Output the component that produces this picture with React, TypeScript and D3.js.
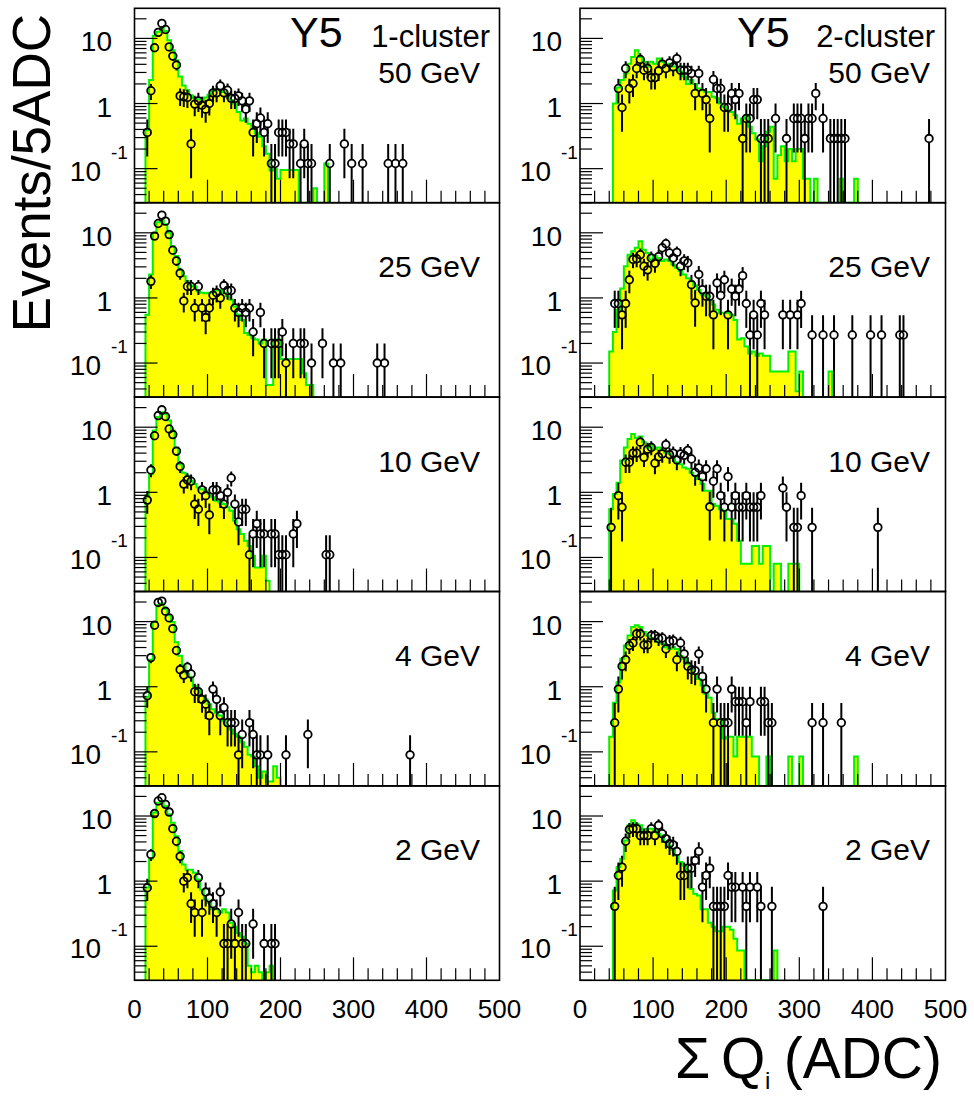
import React from 'react';
import * as d3 from 'd3';

const W = 974;
const H = 1097;
const FONT = "'Liberation Sans', Arial, Helvetica, sans-serif";

// ---------- data ----------
// MC histograms: 5-ADC bins, first bin low edge given by *_start
const mc1c50_start = 15;
const mc1c50 = [0.39, 2.3, 11, 12.7, 15, 13, 9.4, 6.6, 4.6, 2.6, 1.9, 1.6, 1.34, 1.22, 1.15, 1.15, 1.24, 1.37, 1.57, 1.64, 1.6, 1.5, 1.27, 1.12, 1.0, 0.74, 0.55, 0.59, 0.49, 0.44, 0.35, 0.31, 0.22, 0.17, 0.094, 0.1, 0.07, 0.095, 0.095, 0.095, 0.095, 0.095, 0, 0, 0, 0, 0.05, 0, 0, 0.12];
const d1c50: [number, number][] = [[17.5, 0.36], [22.5, 1.57], [27.5, 7.2], [32.5, 12.4], [37.5, 17], [42.5, 13.7], [47.5, 7.4], [52.5, 5.35], [57.5, 3.9], [62.5, 1.31], [67.5, 1.27], [72.5, 1.24], [77.5, 0.24], [82.5, 0.98], [87.5, 1.1], [92.5, 0.94], [97.5, 0.82], [102.5, 1.0], [107.5, 1.46], [112.5, 1.46], [117.5, 1.87], [122.5, 1.46], [127.5, 1.6], [132.5, 1.2], [137.5, 1.2], [142.5, 1.31], [147.5, 1.1], [152.5, 0.82], [157.5, 1.1], [162.5, 0.36], [167.5, 0.49], [172.5, 0.6], [177.5, 0.36], [182.5, 0.49], [187.5, 0.12], [192.5, 0.12], [197.5, 0.36], [202.5, 0.36], [207.5, 0.36], [212.5, 0.24], [217.5, 0.24], [227.5, 0.12], [232.5, 0.24], [237.5, 0.12], [242.5, 0.12], [267.5, 0.12], [287.5, 0.24], [297.5, 0.12], [312.5, 0.12], [347.5, 0.12], [357.5, 0.12], [367.5, 0.12]];
const unit1c50 = 0.119;

const mc2c50_start = 45;
const mc2c50 = [1.0, 1.76, 2.3, 2.9, 4.1, 5.2, 6.6, 5.2, 4.4, 3.7, 4.4, 4.1, 4.9, 4.4, 3.9, 4.1, 3.7, 3.7, 3.1, 2.6, 2.0, 2.3, 2.0, 1.7, 1.6, 1.5, 1.5, 1.27, 1.2, 1.0, 0.89, 0.79, 0.74, 0.66, 0.49, 0.59, 0.66, 0.44, 0.35, 0.28, 0.13, 0.22, 0.37, 0.44, 0.07, 0.16, 0.22, 0.13, 0.2, 0.13, 0.2, 0.2, 0.07, 0.07, 0, 0.07, 0, 0, 0, 0, 0, 0, 0.07, 0, 0, 0, 0.07];
const d2c50: [number, number][] = [[52.5, 1.70], [57.5, 0.87], [62.5, 3.45], [67.5, 1.70], [72.5, 2.03], [77.5, 3.45], [82.5, 4.75], [87.5, 3.25], [92.5, 3.45], [97.5, 2.5], [102.5, 2.5], [107.5, 3.18], [112.5, 4.03], [117.5, 3.45], [122.5, 4.2], [127.5, 3.66], [132.5, 4.9], [137.5, 3.25], [142.5, 3.25], [147.5, 3.25], [152.5, 2.9], [157.5, 1.43], [162.5, 2.9], [167.5, 1.43], [172.5, 1.15], [177.5, 0.59], [182.5, 2.34], [187.5, 1.70], [192.5, 1.70], [197.5, 0.87], [202.5, 0.87], [207.5, 1.43], [212.5, 1.15], [217.5, 1.43], [222.5, 0.29], [227.5, 0.59], [232.5, 0.59], [237.5, 1.15], [242.5, 1.15], [247.5, 0.29], [252.5, 0.29], [257.5, 0.29], [267.5, 0.59], [282.5, 0.29], [292.5, 0.59], [297.5, 0.59], [302.5, 0.59], [307.5, 0.29], [312.5, 0.59], [317.5, 0.59], [322.5, 1.43], [332.5, 0.59], [342.5, 0.29], [347.5, 0.29], [352.5, 0.29], [357.5, 0.29], [362.5, 0.29], [477.5, 0.29]];
const unit2c50 = 0.29;

const mc1c25_start = 15;
const mc1c25 = [0.55, 2.3, 10, 14.5, 15.6, 13.5, 10, 6.2, 4.4, 2.7, 2.15, 1.8, 1.55, 1.5, 1.27, 1.2, 1.18, 1.2, 1.22, 1.3, 1.32, 1.2, 1.06, 0.94, 0.74, 0.55, 0.46, 0.29, 0.27, 0.24, 0.23, 0.2, 0.23, 0.046, 0.046, 0.23, 0.23, 0.115, 0.115, 0.115, 0.115, 0.115, 0.115, 0.07, 0.046, 0.046];
const d1c25: [number, number][] = [[22.5, 1.8], [27.5, 8.9], [32.5, 13.9], [37.5, 18.7], [42.5, 15.1], [47.5, 9.4], [52.5, 5.4], [57.5, 3.7], [62.5, 2.4], [67.5, 0.9], [72.5, 1.5], [77.5, 1.5], [82.5, 0.7], [87.5, 1.5], [92.5, 0.7], [97.5, 0.5], [102.5, 0.7], [107.5, 1.1], [112.5, 1.2], [117.5, 1.0], [122.5, 1.55], [127.5, 1.3], [132.5, 1.3], [137.5, 0.7], [142.5, 0.6], [147.5, 0.7], [152.5, 0.6], [157.5, 0.7], [162.5, 0.3], [172.5, 0.6], [177.5, 0.2], [187.5, 0.2], [192.5, 0.2], [197.5, 0.2], [202.5, 0.3], [207.5, 0.1], [217.5, 0.2], [227.5, 0.2], [232.5, 0.2], [242.5, 0.1], [257.5, 0.2], [272.5, 0.1], [282.5, 0.1], [332.5, 0.1], [342.5, 0.1]];
const unit1c25 = 0.1;

const mc2c25_start = 40;
const mc2c25 = [0.15, 0.3, 0.66, 1.4, 3.07, 4.6, 5.2, 5.9, 7.4, 5.5, 4.9, 3.9, 4.4, 4.1, 3.7, 3.9, 3.7, 3.25, 2.9, 2.6, 2.3, 2.0, 1.8, 1.55, 1.34, 1.13, 1.09, 0.94, 0.79, 0.66, 0.59, 0.59, 0.59, 0.55, 0.46, 0.23, 0.24, 0.18, 0.14, 0.15, 0.13, 0.14, 0.13, 0.13, 0.074, 0.074, 0.074, 0.074, 0.074, 0.15, 0.15, 0.037, 0.074, 0, 0, 0, 0, 0, 0, 0, 0.074];
const d2c25: [number, number][] = [[47.5, 0.82], [52.5, 0.82], [57.5, 0.55], [62.5, 0.82], [67.5, 1.9], [72.5, 3.9], [77.5, 4.0], [82.5, 4.6], [87.5, 3.07], [92.5, 2.7], [97.5, 4.1], [102.5, 3.4], [107.5, 4.3], [112.5, 5.9], [117.5, 6.8], [122.5, 4.9], [127.5, 4.1], [132.5, 5.0], [137.5, 3.07], [142.5, 3.7], [147.5, 3.45], [152.5, 1.6], [157.5, 0.84], [162.5, 2.3], [167.5, 1.34], [172.5, 1.06], [177.5, 1.06], [182.5, 0.55], [187.5, 1.7], [192.5, 1.09], [197.5, 1.9], [202.5, 0.55], [207.5, 1.37], [212.5, 1.06], [217.5, 1.37], [222.5, 2.2], [227.5, 0.82], [232.5, 0.27], [237.5, 0.55], [242.5, 0.27], [247.5, 0.82], [252.5, 0.55], [277.5, 0.55], [287.5, 0.55], [297.5, 0.55], [302.5, 0.82], [317.5, 0.27], [332.5, 0.27], [347.5, 0.27], [372.5, 0.27], [397.5, 0.27], [412.5, 0.27], [437.5, 0.27], [442.5, 0.27]];
const unit2c25 = 0.273;

const mc1c10_start = 15;
const mc1c10 = [0.9, 1.9, 8.9, 14.3, 17, 16, 12.7, 8.9, 4.9, 2.7, 2.0, 1.8, 1.5, 1.34, 1.19, 1.12, 1.06, 0.95, 0.84, 0.74, 0.7, 0.66, 0.59, 0.52, 0.37, 0.27, 0.23, 0.18, 0.15, 0.106, 0.07, 0.07, 0.106, 0.044];
const d1c10: [number, number][] = [[17.5, 0.76], [22.5, 2.2], [27.5, 7.4], [32.5, 15.1], [37.5, 18.5], [42.5, 14.6], [47.5, 9.4], [52.5, 7.7], [57.5, 4.3], [62.5, 2.5], [67.5, 1.34], [72.5, 1.55], [77.5, 1.48], [82.5, 0.66], [87.5, 0.55], [92.5, 1.09], [97.5, 0.89], [102.5, 0.45], [107.5, 1.09], [112.5, 1.09], [117.5, 0.89], [122.5, 0.66], [127.5, 1.0], [132.5, 1.66], [137.5, 0.66], [142.5, 0.35], [147.5, 0.55], [152.5, 0.55], [157.5, 0.11], [162.5, 0.23], [167.5, 0.33], [172.5, 0.23], [177.5, 0.23], [187.5, 0.23], [192.5, 0.23], [197.5, 0.11], [202.5, 0.11], [207.5, 0.11], [217.5, 0.23], [222.5, 0.33], [262.5, 0.11], [267.5, 0.11]];
const unit1c10 = 0.11;

const mc2c10_start = 40;
const mc2c10 = [0.55, 0.94, 1.4, 3.07, 4.9, 6.6, 7.9, 6.8, 7.2, 5.9, 4.9, 5.4, 4.6, 4.9, 4.6, 4.1, 3.9, 3.45, 2.9, 2.7, 2.4, 2.3, 2.0, 1.8, 1.6, 1.34, 1.06, 1.06, 0.66, 0.62, 0.55, 0.52, 0.39, 0.39, 0.33, 0.18, 0.08, 0.08, 0.08, 0.15, 0.15, 0.08, 0.15, 0.15, 0, 0.08, 0.08, 0, 0, 0.08, 0.08, 0.08];
const d2c10: [number, number][] = [[42.5, 0.29], [52.5, 0.89], [57.5, 0.59], [62.5, 2.9], [67.5, 2.9], [72.5, 4.0], [77.5, 4.0], [82.5, 5.9], [87.5, 3.45], [92.5, 4.6], [97.5, 4.9], [102.5, 2.8], [107.5, 3.5], [112.5, 3.9], [117.5, 5.4], [122.5, 3.8], [127.5, 4.0], [132.5, 3.14], [137.5, 3.9], [142.5, 3.7], [147.5, 4.4], [152.5, 3.25], [157.5, 2.03], [162.5, 2.37], [167.5, 1.74], [172.5, 2.3], [177.5, 0.6], [182.5, 1.48], [187.5, 2.3], [192.5, 0.89], [197.5, 0.59], [202.5, 1.74], [207.5, 0.59], [212.5, 0.89], [217.5, 0.59], [222.5, 0.59], [227.5, 0.89], [232.5, 0.59], [237.5, 0.59], [242.5, 0.59], [247.5, 0.89], [277.5, 1.17], [282.5, 0.59], [292.5, 0.29], [297.5, 0.29], [302.5, 0.89], [317.5, 0.29], [407.5, 0.29]];
const unit2c10 = 0.29;

const mc1c4_start = 15;
const mc1c4 = [0.7, 2.6, 9.9, 17.9, 19, 15.8, 12.5, 9.9, 4.8, 3.0, 2.1, 1.6, 1.4, 1.03, 0.92, 0.72, 0.64, 0.54, 0.45, 0.4, 0.36, 0.3, 0.25, 0.22, 0.19, 0.17, 0.14, 0.12, 0.09, 0.085, 0.06, 0.04, 0.05, 0.035, 0.035, 0.06, 0.04];
const d1c4: [number, number][] = [[17.5, 0.73], [22.5, 2.8], [27.5, 8.8], [32.5, 19.7], [37.5, 20.6], [42.5, 14.4], [47.5, 11.4], [52.5, 7.8], [57.5, 3.6], [62.5, 1.83], [67.5, 1.51], [72.5, 2.0], [77.5, 1.57], [82.5, 0.84], [87.5, 0.84], [92.5, 0.64], [97.5, 0.54], [102.5, 0.36], [107.5, 0.92], [112.5, 0.64], [117.5, 0.36], [122.5, 0.48], [127.5, 0.28], [132.5, 0.28], [137.5, 0.28], [142.5, 0.09], [147.5, 0.185], [157.5, 0.28], [162.5, 0.185], [167.5, 0.09], [172.5, 0.09], [182.5, 0.09], [207.5, 0.09], [237.5, 0.185], [377.5, 0.09]];
const unit1c4 = 0.09;

const mc2c4_start = 40;
const mc2c4 = [0.17, 0.57, 1.17, 2.7, 4.3, 6.1, 8.3, 8.8, 8.3, 6.9, 6.1, 5.5, 5.5, 4.85, 4.6, 4.05, 3.8, 4.05, 3.8, 3.0, 2.7, 2.25, 1.87, 1.57, 1.31, 1.04, 0.77, 0.68, 0.4, 0.32, 0.32, 0.16, 0.17, 0.17, 0.085, 0.17, 0.17, 0.17, 0.17, 0.085, 0.085, 0, 0, 0.085, 0, 0, 0, 0, 0, 0.085, 0, 0, 0.085, 0, 0, 0, 0, 0, 0, 0, 0, 0, 0, 0, 0, 0, 0, 0.085];
const d2c4: [number, number][] = [[47.5, 0.28], [52.5, 0.92], [57.5, 2.06], [62.5, 2.6], [67.5, 4.3], [72.5, 4.7], [77.5, 6.5], [82.5, 6.5], [87.5, 4.4], [92.5, 4.4], [97.5, 6.1], [102.5, 6.1], [107.5, 5.5], [112.5, 5.6], [117.5, 3.8], [122.5, 5.0], [127.5, 5.1], [132.5, 2.6], [137.5, 4.7], [142.5, 3.2], [147.5, 2.06], [152.5, 1.83], [157.5, 1.77], [162.5, 3.2], [167.5, 1.44], [172.5, 0.92], [182.5, 0.28], [187.5, 0.92], [192.5, 0.28], [197.5, 0.28], [202.5, 0.28], [207.5, 0.92], [212.5, 0.59], [217.5, 0.59], [222.5, 0.59], [227.5, 0.28], [232.5, 0.59], [247.5, 0.59], [252.5, 0.59], [257.5, 0.28], [262.5, 0.28], [317.5, 0.28], [332.5, 0.28], [357.5, 0.28]];
const unit2c4 = 0.29;

const mc1c2_start = 15;
const mc1c2 = [0.8, 2.2, 11.3, 16, 17, 14.3, 10.6, 7.9, 4.9, 2.9, 1.8, 1.5, 1.5, 1.34, 1.06, 0.74, 0.52, 0.46, 0.37, 0.37, 0.33, 0.37, 0.33, 0.23, 0.2, 0.16, 0.14, 0.11, 0.05, 0.04, 0.05, 0.04, 0, 0.04, 0.05];
const d1c2: [number, number][] = [[17.5, 0.79], [22.5, 2.57], [27.5, 10.9], [32.5, 17], [37.5, 19.1], [42.5, 15.1], [47.5, 11.5], [52.5, 6.4], [57.5, 4.1], [62.5, 2.4], [67.5, 1.0], [72.5, 1.13], [77.5, 0.45], [82.5, 0.33], [87.5, 1.13], [92.5, 0.33], [97.5, 0.68], [102.5, 0.55], [107.5, 0.45], [112.5, 0.33], [117.5, 0.68], [122.5, 0.11], [127.5, 0.11], [132.5, 0.22], [137.5, 0.11], [142.5, 0.33], [147.5, 0.11], [152.5, 0.11], [162.5, 0.22], [177.5, 0.11], [187.5, 0.11], [192.5, 0.11]];
const unit1c2 = 0.11;

const mc2c2_start = 45;
const mc2c2 = [0.72, 1.64, 2.2, 4.2, 7.2, 8.6, 7.6, 7.2, 6.0, 6.4, 6.4, 6.0, 5.35, 5.0, 4.0, 3.5, 3.0, 2.5, 1.96, 1.74, 1.46, 0.76, 0.64, 0.6, 0.37, 0.37, 0.23, 0.2, 0.17, 0.17, 0.2, 0.2, 0.18, 0.13, 0.086, 0.086, 0, 0, 0, 0, 0, 0, 0, 0, 0.086];
const d2c2: [number, number][] = [[47.5, 0.41], [52.5, 1.22], [57.5, 1.64], [62.5, 4.1], [67.5, 6.2], [72.5, 6.4], [77.5, 6.4], [82.5, 5.0], [87.5, 5.0], [92.5, 5.0], [97.5, 6.4], [102.5, 5.0], [107.5, 7.2], [112.5, 5.35], [117.5, 4.5], [122.5, 3.75], [127.5, 3.6], [132.5, 2.86], [137.5, 1.22], [142.5, 1.22], [147.5, 1.58], [152.5, 1.58], [157.5, 2.08], [162.5, 2.86], [167.5, 0.81], [172.5, 1.22], [177.5, 1.58], [182.5, 0.41], [187.5, 0.41], [192.5, 0.41], [197.5, 0.41], [202.5, 1.22], [207.5, 0.81], [212.5, 0.81], [222.5, 0.81], [227.5, 0.41], [232.5, 0.81], [242.5, 0.81], [247.5, 0.41], [262.5, 0.41], [332.5, 0.41]];
const unit2c2 = 0.41;

// labels / ticks
const energies = ['50 GeV', '25 GeV', '10 GeV', '4 GeV', '2 GeV'];
const clusterLabels = ['1-cluster', '2-cluster'];
const xTickLabels = [0, 100, 200, 300, 400, 500];
const xDomain = [0, 500];
const yDomain = [0.03, 29];

// ---------- layout ----------
const colX: [number, number][] = [[134.5, 499.5], [580, 945.5]];
const ROW_TOP = 8.3;
const ROW_H = 194.4;
const labelAnchor = [112, 562];
const energyAnchor = [480, 930];
const clusterAnchor = [490, 935];
const y5X = [290, 737];

const YELLOW = '#ffff00';
const GREEN = '#00f000';

type Panel = {
  row: number;
  col: number;
  mcStart: number;
  mc: number[];
  data: [number, number][];
  unit: number;
};

const panels: Panel[] = [
  { row: 0, col: 0, mcStart: mc1c50_start, mc: mc1c50, data: d1c50, unit: unit1c50 },
  { row: 0, col: 1, mcStart: mc2c50_start, mc: mc2c50, data: d2c50, unit: unit2c50 },
  { row: 1, col: 0, mcStart: mc1c25_start, mc: mc1c25, data: d1c25, unit: unit1c25 },
  { row: 1, col: 1, mcStart: mc2c25_start, mc: mc2c25, data: d2c25, unit: unit2c25 },
  { row: 2, col: 0, mcStart: mc1c10_start, mc: mc1c10, data: d1c10, unit: unit1c10 },
  { row: 2, col: 1, mcStart: mc2c10_start, mc: mc2c10, data: d2c10, unit: unit2c10 },
  { row: 3, col: 0, mcStart: mc1c4_start, mc: mc1c4, data: d1c4, unit: unit1c4 },
  { row: 3, col: 1, mcStart: mc2c4_start, mc: mc2c4, data: d2c4, unit: unit2c4 },
  { row: 4, col: 0, mcStart: mc1c2_start, mc: mc1c2, data: d1c2, unit: unit1c2 },
  { row: 4, col: 1, mcStart: mc2c2_start, mc: mc2c2, data: d2c2, unit: unit2c2 },
];

function PanelView({ p, idx }: { p: Panel; idx: number }) {
  const [x0, x1] = colX[p.col];
  const top = ROW_TOP + p.row * ROW_H;
  const bottom = top + ROW_H;
  const x = d3.scaleLinear().domain(xDomain).range([x0, x1]);
  const y = d3.scaleLog().domain(yDomain).range([bottom, top]).clamp(true);
  const yv = (v: number) => (v <= yDomain[0] ? bottom : y(v));

  // MC step histogram
  const path = d3.path();
  const n = p.mc.length;
  path.moveTo(x(p.mcStart), bottom);
  p.mc.forEach((v, i) => {
    const a = p.mcStart + 5 * i;
    path.lineTo(x(a), yv(v));
    path.lineTo(x(a + 5), yv(v));
  });
  path.lineTo(x(p.mcStart + 5 * n), bottom);
  const d = path.toString();

  const clipId = `clip${idx}`;
  const r = 3.8;

  // ticks
  const xTicks = d3.range(20, 500, 20);
  const yMajor = [0.1, 1, 10];
  const yMinor: number[] = [];
  [0.01, 0.1, 1, 10].forEach((dec) => {
    for (let k = 2; k <= 9; k++) {
      const v = k * dec;
      if (v >= yDomain[0] && v <= yDomain[1]) yMinor.push(v);
    }
  });

  const la = labelAnchor[p.col];

  return (
    <g>
      <defs>
        <clipPath id={clipId}>
          <rect x={x0} y={top} width={x1 - x0} height={ROW_H} />
        </clipPath>
      </defs>
      <g clipPath={`url(#${clipId})`}>
        <path d={d + 'Z'} fill={YELLOW} stroke="none" />
        <path d={d} fill="none" stroke={GREEN} strokeWidth={2} strokeLinejoin="miter" />
        {p.data.map(([xv, v], i) => {
          const cx = x(xv);
          const cy = y(v);
          const e = Math.sqrt(v / p.unit) * p.unit;
          const yTop = y(v + e);
          const yBot = v - e <= yDomain[0] * 0.999 ? bottom : y(v - e);
          return (
            <g key={i}>
              {cy - r - yTop > 0.5 && (
                <line x1={cx} x2={cx} y1={yTop} y2={cy - r} stroke="#000" strokeWidth={2} />
              )}
              {yBot - (cy + r) > 0.5 && (
                <line x1={cx} x2={cx} y1={cy + r} y2={yBot} stroke="#000" strokeWidth={2} />
              )}
              <circle cx={cx} cy={cy} r={r} fill="none" stroke="#000" strokeWidth={1.8} />
            </g>
          );
        })}
      </g>
      {/* ticks */}
      {xTicks.map((t) => (
        <line
          key={'xt' + t}
          x1={x(t)}
          x2={x(t)}
          y1={bottom}
          y2={bottom - (t % 100 === 0 ? 23 : 12)}
          stroke="#000"
          strokeWidth={1.2}
        />
      ))}
      {yMajor.map((t) => (
        <line key={'ym' + t} x1={x0} x2={x0 + 23} y1={y(t)} y2={y(t)} stroke="#000" strokeWidth={1.2} />
      ))}
      {yMinor.map((t) => (
        <line key={'yn' + t} x1={x0} x2={x0 + 12} y1={y(t)} y2={y(t)} stroke="#000" strokeWidth={1.2} />
      ))}
      <rect x={x0} y={top} width={x1 - x0} height={ROW_H} fill="none" stroke="#000" strokeWidth={1.6} />
      {/* y labels */}
      <text x={la} y={y(10) + 13} textAnchor="end" fontSize={28} fontFamily={FONT}>10</text>
      <text x={la} y={y(1) + 13} textAnchor="end" fontSize={28} fontFamily={FONT}>1</text>
      <text x={la - 11} y={y(0.1) + 12} textAnchor="end" fontSize={28} fontFamily={FONT}>10</text>
      <text x={la - 1} y={y(0.1) - 10} textAnchor="start" fontSize={19} fontFamily={FONT}>-1</text>
      {/* energy label */}
      <text x={energyAnchor[p.col]} y={top + 74.5} textAnchor="end" fontSize={30} fontFamily={FONT}>
        {energies[p.row]}
      </text>
      {p.row === 0 && (
        <>
          <text x={y5X[p.col]} y={top + 38.4} fontSize={43} fontFamily={FONT}>Y5</text>
          <text x={clusterAnchor[p.col]} y={top + 38.4} textAnchor="end" fontSize={31} fontFamily={FONT}>
            {clusterLabels[p.col]}
          </text>
        </>
      )}
      {p.row === 4 &&
        xTickLabels.map((t) => (
          <text key={'xl' + t} x={x(t)} y={1018} textAnchor="middle" fontSize={26} fontFamily={FONT}>
            {t}
          </text>
        ))}
    </g>
  );
}

export default function App() {
  return (
    <svg
      width={W}
      height={H}
      viewBox={`0 0 ${W} ${H}`}
      style={{ position: 'absolute', left: 0, top: 0, background: '#fff' }}
    >
      <rect x={0} y={0} width={W} height={H} fill="#fff" />
      {panels.map((p, i) => (
        <PanelView key={i} p={p} idx={i} />
      ))}
      <text
        transform="translate(50,14) rotate(-90)"
        textAnchor="end"
        fontSize={53}
        fontFamily={FONT}
      >
        Events/5ADC
      </text>
      <text x={675} y={1078} fontSize={57} fontFamily={FONT}>Σ</text>
      <text x={721} y={1078} fontSize={57} fontFamily={FONT}>Q</text>
      <text x={765} y={1089} fontSize={24} fontFamily={FONT}>i</text>
      <text x={942} y={1078} textAnchor="end" fontSize={57} fontFamily={FONT}>(ADC)</text>
    </svg>
  );
}
